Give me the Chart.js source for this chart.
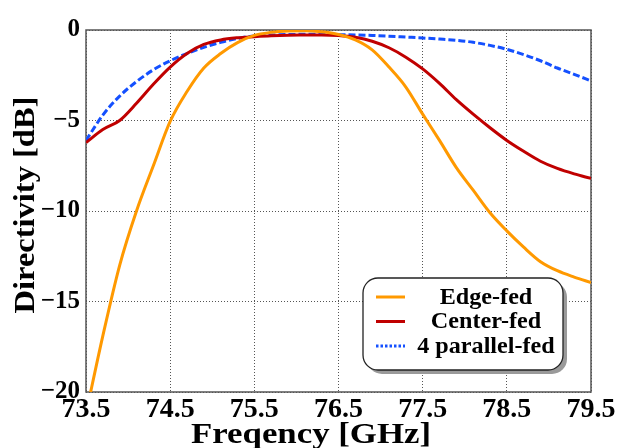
<!DOCTYPE html>
<html>
<head>
<meta charset="utf-8">
<script src="https://cdn.jsdelivr.net/npm/chart.js@4/dist/chart.umd.min.js"></script>
<style>
  html, body { margin: 0; padding: 0; background: #fff; }
</style>
</head>
<body>
<canvas id="directivity" width="623" height="448"></canvas>
<script>
// Frequency points (GHz) and directivity (dB)
const freqs = [73.5, 73.7, 73.9, 74.1, 74.3, 74.5, 74.7, 74.9, 75.1, 75.3, 75.5,
  75.7, 75.9, 76.1, 76.3, 76.5, 76.7, 76.9, 77.1, 77.3, 77.5,
  77.7, 77.9, 78.1, 78.3, 78.5, 78.7, 78.9, 79.1, 79.3, 79.5];
const edgeFed = [-21.2, -16.9, -13.0, -10.0, -7.5, -5.05, -3.4, -2.1, -1.3, -0.7, -0.3,
  -0.13, -0.05, -0.04, -0.1, -0.25, -0.55, -1.1, -2.05, -3.15, -4.65,
  -6.1, -7.6, -8.85, -10.1, -11.1, -12.0, -12.8, -13.3, -13.65, -13.95];
const centerFed = [-6.22, -5.5, -5.0, -4.05, -3.0, -2.05, -1.3, -0.8, -0.55, -0.43, -0.37,
  -0.32, -0.29, -0.28, -0.27, -0.3, -0.4, -0.62, -0.98, -1.5, -2.15,
  -2.95, -3.85, -4.65, -5.4, -6.1, -6.7, -7.25, -7.65, -7.95, -8.2];
const parallelFed = [-6.1, -4.7, -3.65, -2.85, -2.2, -1.7, -1.3, -0.96, -0.68, -0.47, -0.33,
  -0.28, -0.25, -0.24, -0.24, -0.25, -0.27, -0.3, -0.34, -0.39, -0.44,
  -0.5, -0.57, -0.68, -0.85, -1.07, -1.36, -1.7, -2.1, -2.45, -2.81];
const seriesNames = ["Edge-fed", "Center-fed", "4 parallel-fed"];
const xTicks = [73.5, 74.5, 75.5, 76.5, 77.5, 78.5, 79.5];
const yTicks = [0, -5, -10, -15, -20];

const FONT = "'Liberation Serif', 'Times New Roman', serif";

function toPoints(values) {
  return freqs.map((f, i) => ({ x: f, y: values[i] }));
}

// frame around the plot, drawn under the curves
const framePlugin = {
  id: "frame",
  beforeDatasetsDraw(chart) {
    const { ctx, chartArea: a } = chart;
    ctx.save();
    ctx.strokeStyle = "#555";
    ctx.lineWidth = 1.5;
    ctx.strokeRect(a.left, a.top, a.right - a.left, a.bottom - a.top);
    ctx.restore();
  },
};

// axis titles and the rounded legend box
const decorPlugin = {
  id: "decor",
  afterDraw(chart) {
    const { ctx } = chart;
    ctx.save();
    ctx.fillStyle = "#000";
    ctx.font = `bold 29px ${FONT}`;
    ctx.textAlign = "center";
    ctx.textBaseline = "alphabetic";

    ctx.save();
    ctx.translate(311, 443);
    ctx.scale(1.2, 1);
    ctx.fillText("Freqency [GHz]", 0, 0);
    ctx.restore();

    ctx.save();
    ctx.translate(34, 205);
    ctx.rotate(-Math.PI / 2);
    ctx.scale(1.12, 1);
    ctx.fillText("Directivity [dB]", 0, 0);
    ctx.restore();

    // legend
    const box = { x: 363, y: 278, w: 200, h: 92, r: 15 };
    const roundRect = (x, y) => {
      ctx.beginPath();
      ctx.roundRect(x, y, box.w, box.h, box.r);
    };
    ctx.fillStyle = "#9a9a9a";
    roundRect(box.x + 4, box.y + 4);
    ctx.fill();
    ctx.fillStyle = "#fff";
    ctx.strokeStyle = "#222";
    ctx.lineWidth = 1.3;
    roundRect(box.x, box.y);
    ctx.fill();
    ctx.stroke();

    ctx.font = `bold 23px ${FONT}`;
    ctx.textBaseline = "middle";
    chart.data.datasets.forEach((ds, i) => {
      const y = 297 + i * 24.5;
      ctx.save();
      ctx.strokeStyle = ds.borderColor;
      ctx.lineWidth = ds.borderWidth;
      ctx.setLineDash(i === 2 ? [2.5, 2] : []);
      ctx.beginPath();
      ctx.moveTo(376, y);
      ctx.lineTo(405, y);
      ctx.stroke();
      ctx.restore();
      ctx.fillStyle = "#000";
      ctx.textAlign = "center";
      ctx.save();
      ctx.translate(486, y + 1);
      ctx.scale(1.05, 1);
      ctx.fillText(ds.label, 0, 0);
      ctx.restore();
    });
    ctx.restore();
  },
};

new Chart(document.getElementById("directivity"), {
  type: "line",
  data: {
    datasets: [
      {
        label: seriesNames[0],
        data: toPoints(edgeFed),
        borderColor: "#ff9900",
        borderWidth: 3,
      },
      {
        label: seriesNames[1],
        data: toPoints(centerFed),
        borderColor: "#c00000",
        borderWidth: 3,
      },
      {
        label: seriesNames[2],
        data: toPoints(parallelFed),
        borderColor: "#1450ff",
        borderWidth: 3,
        borderDash: [7, 3],
      },
    ],
  },
  options: {
    responsive: false,
    animation: false,
    devicePixelRatio: 1,
    layout: { padding: { left: 0, right: 32, top: 30, bottom: 0 } },
    elements: {
      point: { radius: 0 },
      line: { cubicInterpolationMode: "monotone", fill: false },
    },
    plugins: {
      legend: { display: false },
      tooltip: { enabled: false },
    },
    scales: {
      x: {
        type: "linear",
        min: 73.5,
        max: 79.5,
        afterBuildTicks: (scale) => {
          scale.ticks = xTicks.map((v) => ({ value: v }));
        },
        afterFit: (scale) => {
          scale.height = 56;
        },
        grid: { color: "#555", lineWidth: 1, drawTicks: false },
        border: { display: false, dash: [1, 2] },
        ticks: {
          padding: 1,
          color: "#000",
          maxRotation: 0,
          font: { family: FONT, size: 28, weight: "bold" },
          callback: (v) => v.toFixed(1),
        },
      },
      y: {
        min: -20,
        max: 0,
        afterBuildTicks: (scale) => {
          scale.ticks = yTicks.map((v) => ({ value: v }));
        },
        afterFit: (scale) => {
          scale.width = 86;
        },
        grid: { color: "#555", lineWidth: 1, drawTicks: false },
        border: { display: false, dash: [1, 2] },
        ticks: {
          padding: 6,
          color: "#000",
          font: { family: FONT, size: 25, weight: "bold" },
          callback: (v) => (v < 0 ? "\u2212" + Math.abs(v) : String(v)),
        },
      },
    },
  },
  plugins: [framePlugin, decorPlugin],
});
</script>
</body>
</html>
